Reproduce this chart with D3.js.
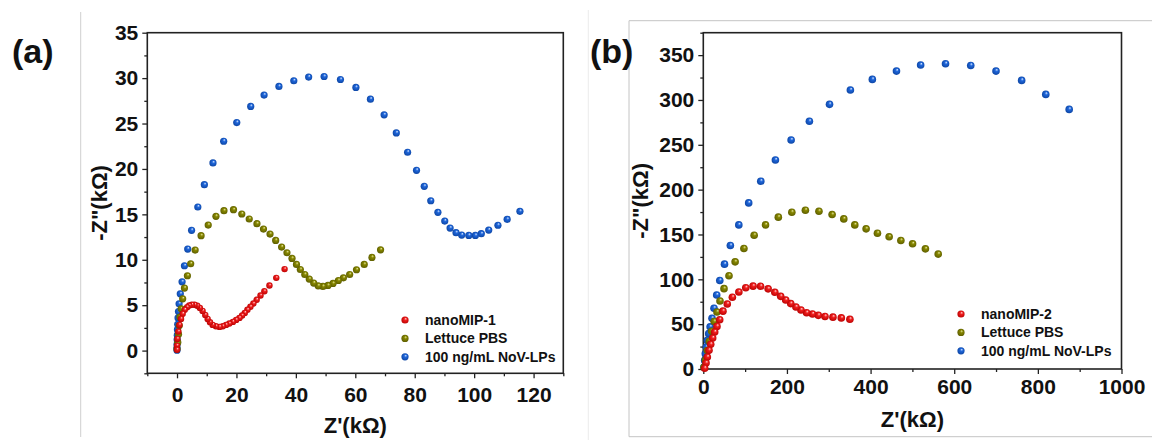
<!DOCTYPE html>
<html>
<head>
<meta charset="utf-8">
<script src="https://cdn.jsdelivr.net/npm/d3@7"></script>
<style>
  body { margin: 0; background: #fff; }
  svg { display: block; font-family: "Liberation Sans", Arial, sans-serif; font-weight: bold; }
</style>
</head>
<body>
<svg id="chart" width="1152" height="440"></svg>
<script>
// panel (a) data, Z' and -Z'' in kOhm
const aNanoMIP = [[36.2,8.97],[33.4,8.01],[31.1,7.17],[29.4,6.54],[28.1,6.07],[26.8,5.59],[25.7,5.18],[24.7,4.82],[23.7,4.49],[22.8,4.15],[21.9,3.86],[21.0,3.6],[19.9,3.38],[18.8,3.16],[17.6,2.98],[16.5,2.83],[15.4,2.68],[14.3,2.61],[13.1,2.68],[12.0,2.83],[11.1,3.13],[10.3,3.49],[9.5,3.93],[8.6,4.37],[7.7,4.7],[6.8,4.93],[5.9,5.04],[5.0,5.04],[4.1,4.96],[3.4,4.78],[2.6,4.49],[1.9,4.05],[1.35,3.49],[0.8,2.83],[0.45,2.1],[0.1,1.29],[0,0.55],[0,0.1]];
const aLettuce = [[68.5,11.1],[65.6,10.26],[63,9.49],[60.4,8.9],[58.1,8.38],[56,8.01],[54.3,7.72],[52.5,7.39],[50.8,7.17],[49.1,7.06],[47.5,7.13],[46,7.43],[44.5,7.87],[43,8.38],[41.5,8.93],[40.2,9.49],[38.7,10.15],[37,10.77],[35.2,11.4],[33.2,12.13],[31.3,12.83],[29.1,13.38],[26.9,13.97],[24.3,14.49],[21.8,15.04],[19,15.51],[15.8,15.4],[13.1,14.78],[10.5,13.82],[8.1,12.65],[6.1,11.07],[4.6,9.56],[3.5,8.24],[2.5,6.88],[1.9,5.7],[1.4,4.6],[1,3.7],[0.75,2.75],[0.5,1.8],[0.25,0.9],[0,0.2]];
const aNoV = [[115.4,15.33],[111.1,14.45],[108.0,13.8],[104.9,13.27],[102.4,12.87],[100.4,12.68],[98.2,12.68],[95.8,12.72],[93.9,12.98],[91.9,13.49],[90.1,14.26],[87.8,15.22],[85.4,16.5],[83.2,18.09],[80.6,19.85],[77.6,21.84],[73.8,23.97],[69.7,25.96],[65.1,27.68],[60.2,28.97],[55.0,29.85],[49.5,30.18],[44.3,30.11],[39.3,29.71],[34.3,29.08],[29.3,28.13],[24.8,26.88],[20.1,25.11],[15.7,23.05],[12.1,20.66],[9.2,18.27],[7.0,15.81],[4.9,13.24],[3.6,11.18],[2.5,9.34],[1.7,7.57],[1.1,6.25],[0.7,5.15],[0.5,4.3],[0.35,3.6],[0.25,2.9],[0.15,2.3],[0.1,1.7],[0.05,1.2],[0.02,0.7],[0,0.3],[0,0.05]];

// panel (b) data
const bNanoMIP = [[350.5,55.4],[330,57],[310,57.8],[291,58.6],[275,59.8],[261,61.3],[247,62.8],[233.5,65.8],[221.5,69.1],[209,72.9],[197,76.9],[185,81],[171,85.5],[155,89.4],[137,92.2],[119,92.4],[101.5,90.6],[85,85.8],[69.5,80],[57.3,72.5],[47,64.5],[39.2,55],[32.7,47.5],[27.2,41.2],[22.4,34.5],[17.7,27.5],[13.6,20.8],[9.6,13.3],[6.5,6.6],[3.3,0.8]];
const bLettuce = [[561.7,128.1],[531.1,134],[500.4,139.6],[472.4,143.3],[444.4,147.4],[416.4,151.4],[389.3,156.3],[362.2,160.7],[335.9,167.4],[308,172.2],[276.5,175.9],[244.1,177.1],[211.7,174.8],[179.4,169.3],[148.7,160.7],[121.6,149.2],[97.1,134.4],[76.1,119.5],[61.4,104],[49.5,89.6],[39.9,75.8],[32.7,63.5],[26,53],[20,42],[14.5,31],[9.5,20.5],[5,10],[1.5,2]];
const bNoV = [[874.9,289.5],[818.9,306.2],[761.2,321.8],[699.9,332.2],[639.5,338.5],[579.2,340.4],[519.7,338.9],[461.9,332.2],[404.2,322.9],[351.7,311.1],[301.8,295.1],[253.7,276.2],[210,255.4],[172.4,233.1],[137.4,209.4],[108.5,185.2],[84.9,160.7],[64.7,137.7],[50.7,116.9],[39.4,98.7],[32,82.5],[25.6,67.8],[20.8,56.5],[16.3,47],[12.9,39.4],[9.6,31.9],[7.2,24.4],[4.8,17.1],[3.3,9.6],[1.7,2.1]];

const aLegend = ["nanoMIP-1", "Lettuce PBS", "100 ng/mL NoV-LPs"];
const bLegend = ["nanoMIP-2", "Lettuce PBS", "100 ng/mL NoV-LPs"];

const aXTicks = [0, 20, 40, 60, 80, 100, 120];
const aXMinor = [-10, 10, 30, 50, 70, 90, 110, 130];
const aYTicks = [0, 5, 10, 15, 20, 25, 30, 35];
const aYMinor = [-2.5, 2.5, 7.5, 12.5, 17.5, 22.5, 27.5, 32.5];
const bXTicks = [0, 200, 400, 600, 800, 1000];
const bXMinor = [100, 300, 500, 700, 900];
const bYTicks = [0, 50, 100, 150, 200, 250, 300, 350];
const bYMinor = [25, 75, 125, 175, 225, 275, 325, 375];

const svg = d3.select('#chart');

// sphere-like marker fills
const colors = {
  red: ['#ffd6d6', '#f01e1e', '#b50000'],
  olive: ['#e8e8a0', '#878700', '#5a5a00'],
  blue: ['#d8e8ff', '#1f66da', '#0b43a0']
};
const defs = svg.append('defs');
Object.entries(colors).forEach(([name, c]) => {
  const g = defs.append('radialGradient')
    .attr('id', 'ball-' + name)
    .attr('cx', '0.5').attr('cy', '0.5').attr('r', '0.55')
    .attr('fx', '0.62').attr('fy', '0.3');
  g.append('stop').attr('offset', '0%').attr('stop-color', c[0]);
  g.append('stop').attr('offset', '35%').attr('stop-color', c[1]);
  g.append('stop').attr('offset', '100%').attr('stop-color', c[2]);
});

// light frame lines of the figure
svg.append('line').attr('x1', 80.7).attr('x2', 80.7).attr('y1', 12).attr('y2', 437)
  .attr('stroke', '#cfcfcf').attr('stroke-width', 1);
svg.append('line').attr('x1', 588.3).attr('x2', 588.3).attr('y1', 10).attr('y2', 440)
  .attr('stroke', '#ececec').attr('stroke-width', 1);
svg.append('path').attr('d', 'M1152,20.7H629V436.7H1152')
  .attr('fill', 'none').attr('stroke', '#c4c4c4').attr('stroke-width', 1);

function drawPanel(opt) {
  const x = d3.scaleLinear().domain(opt.xDomain).range([opt.left, opt.right]);
  const y = d3.scaleLinear().domain(opt.yDomain).range([opt.bottom, opt.top]);
  const g = svg.append('g');

  // minor ticks
  g.append('g')
    .attr('transform', `translate(0,${opt.bottom})`)
    .call(d3.axisBottom(x).tickValues(opt.xMinor).tickSize(3).tickFormat(''));
  g.append('g')
    .attr('transform', `translate(${opt.left},0)`)
    .call(d3.axisLeft(y).tickValues(opt.yMinor).tickSize(3).tickFormat(''));

  // major ticks with labels
  const xAxis = g.append('g')
    .attr('transform', `translate(0,${opt.bottom})`)
    .call(d3.axisBottom(x).tickValues(opt.xTicks).tickSize(5).tickPadding(opt.xPad).tickFormat(d3.format('d')));
  const yAxis = g.append('g')
    .attr('transform', `translate(${opt.left},0)`)
    .call(d3.axisLeft(y).tickValues(opt.yTicks).tickSize(5).tickPadding(4).tickFormat(d3.format('d')));

  g.selectAll('.domain').remove();
  g.selectAll('.tick line').attr('stroke', '#222').attr('stroke-width', 1.3);
  xAxis.selectAll('text').style('font-size', '21px').style('font-weight', 'bold')
    .style('font-family', '"Liberation Sans", Arial, sans-serif').attr('fill', '#111');
  yAxis.selectAll('text').style('font-size', '21px').style('font-weight', 'bold')
    .style('font-family', '"Liberation Sans", Arial, sans-serif').attr('fill', '#111');

  // plot frame
  g.append('rect')
    .attr('x', opt.left).attr('y', opt.top)
    .attr('width', opt.right - opt.left).attr('height', opt.bottom - opt.top)
    .attr('fill', 'none').attr('stroke', '#222').attr('stroke-width', 1.6);

  // axis titles
  g.append('text')
    .attr('x', (opt.left + opt.right) / 2).attr('y', opt.xTitleY)
    .attr('text-anchor', 'middle').style('font-size', '22px').attr('fill', '#111')
    .text("Z'(k\u03A9)");
  g.append('text')
    .attr('transform', `translate(${opt.yTitleX},${(opt.top + opt.bottom) / 2}) rotate(-90)`)
    .attr('text-anchor', 'middle').attr('dy', '0.35em').style('font-size', '22px').attr('fill', '#111')
    .text('-Z"(k\u03A9)');

  // panel letter
  g.append('text')
    .attr('x', opt.letterX).attr('y', 63)
    .style('font-size', '34px').attr('fill', '#111')
    .text(opt.letter);

  // series, drawn back to front
  const series = [
    { data: opt.series[2], fill: 'blue', r: opt.r },
    { data: opt.series[1], fill: 'olive', r: opt.r },
    { data: opt.series[0], fill: 'red', r: opt.rRed }
  ];
  series.forEach(s => {
    g.append('g').selectAll('circle')
      .data(s.data)
      .enter()
      .append('circle')
      .attr('cx', d => x(d[0]))
      .attr('cy', d => y(d[1]))
      .attr('r', s.r)
      .attr('fill', `url(#ball-${s.fill})`);
  });

  // legend
  const fills = ['red', 'olive', 'blue'];
  const leg = g.append('g');
  opt.legend.forEach((label, i) => {
    const ly = opt.legY + i * 18.4;
    leg.append('circle').attr('cx', opt.legX).attr('cy', ly).attr('r', 3.6)
      .attr('fill', `url(#ball-${fills[i]})`);
    leg.append('text').attr('x', opt.legX + 20).attr('y', ly).attr('dy', '0.35em')
      .style('font-size', '14px').attr('fill', '#111')
      .text(label);
  });
}

drawPanel({
  left: 147.3, right: 563.3, top: 32.7, bottom: 373.3,
  xDomain: [-10, 130], yDomain: [-2.5, 35],
  xTicks: aXTicks, xMinor: aXMinor, yTicks: aYTicks, yMinor: aYMinor,
  xPad: 9, xTitleY: 433, yTitleX: 99.3,
  letter: '(a)', letterX: 12,
  series: [aNanoMIP, aLettuce, aNoV], r: 3.6, rRed: 3.2,
  legend: aLegend, legX: 405, legY: 320
});

drawPanel({
  left: 703.3, right: 1121.5, top: 32.7, bottom: 369,
  xDomain: [0, 1000], yDomain: [0, 375],
  xTicks: bXTicks, xMinor: bXMinor, yTicks: bYTicks, yMinor: bYMinor,
  xPad: 5, xTitleY: 427, yTitleX: 640,
  letter: '(b)', letterX: 590,
  series: [bNanoMIP, bLettuce, bNoV], r: 3.8, rRed: 3.8,
  legend: bLegend, legX: 961, legY: 314
});
</script>
</body>
</html>
